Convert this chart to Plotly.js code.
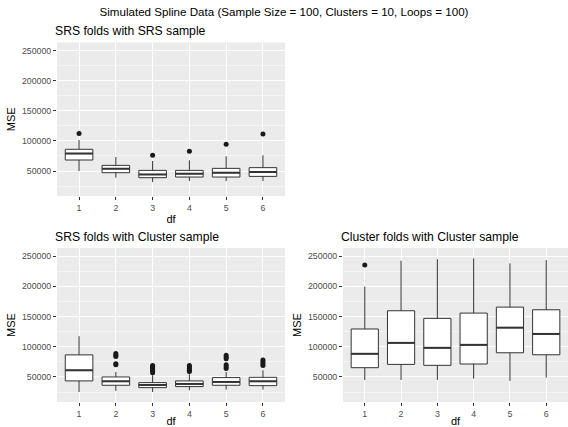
<!DOCTYPE html>
<html>
<head>
<meta charset="utf-8">
<script src="https://cdn.plot.ly/plotly-3.0.1.min.js"></script>
<style>html,body{margin:0;padding:0;background:#fff}#chart{width:568px;height:427px}</style>
</head>
<body>
<div id="chart"></div>
<script>
// ---- data ----
const dfLevels = [1, 2, 3, 4, 5, 6];
const mainTitle = "Simulated Spline Data (Sample Size = 100, Clusters = 10, Loops = 100)";
const panelTitles = ["SRS folds with SRS sample", "SRS folds with Cluster sample", "Cluster folds with Cluster sample"];

// Panel 1: SRS folds with SRS sample
const p1Lower  = [50000, 38900, 31700, 33300, 33300, 33300];
const p1Q1     = [68300, 47200, 38900, 40000, 40000, 41100];
const p1Median = [78900, 53900, 44400, 45600, 47200, 48300];
const p1Q3     = [86100, 59400, 51100, 51100, 54400, 55600];
const p1Upper  = [101700, 73300, 66700, 67800, 74400, 76100];
const p1OutX   = [1, 3, 4, 5, 6];
const p1OutY   = [112200, 76100, 82800, 94400, 111700];

// Panel 2: SRS folds with Cluster sample
const p2Lower  = [25100, 26800, 25100, 27900, 29000, 29000];
const p2Q1     = [43400, 36200, 32300, 34000, 36200, 35600];
const p2Median = [61000, 42800, 36700, 38400, 41700, 42800];
const p2Q3     = [86500, 50000, 40600, 43400, 48900, 49400];
const p2Upper  = [117400, 58300, 52700, 54400, 58300, 61000];
const p2OutX   = [2, 2, 2, 2, 2, 3, 3, 3, 3, 3, 3, 4, 4, 4, 4, 4, 5, 5, 5, 5, 5, 5, 6, 6, 6, 6];
const p2OutY   = [89000, 86000, 84000, 72000, 70000,
                  69000, 67000, 65000, 62000, 60000, 57000,
                  69000, 67000, 64000, 61000, 59000,
                  86000, 83000, 80000, 70000, 67000, 64000,
                  78000, 75000, 72000, 69000];

// Panel 3: Cluster folds with Cluster sample
const p3Lower  = [45000, 45000, 45000, 47200, 43400, 48900];
const p3Q1     = [65300, 70800, 69200, 71400, 90000, 86700];
const p3Median = [88300, 106400, 98200, 103100, 131600, 121200];
const p3Q3     = [129400, 159600, 147000, 155700, 165600, 161200];
const p3Upper  = [199600, 242300, 245000, 246200, 238000, 243400];
const p3OutX   = [1];
const p3OutY   = [235200];

const yTicks = [50000, 100000, 150000, 200000, 250000];

// ---- build ----
const W = 568, H = 427;
const panels = [
  {lo:p1Lower, q1:p1Q1, med:p1Median, q3:p1Q3, hi:p1Upper, ox:p1OutX, oy:p1OutY, px:[57,285], py:[42.5,196]},
  {lo:p2Lower, q1:p2Q1, med:p2Median, q3:p2Q3, hi:p2Upper, ox:p2OutX, oy:p2OutY, px:[57,285], py:[248,402]},
  {lo:p3Lower, q1:p3Q1, med:p3Median, q3:p3Q3, hi:p3Upper, ox:p3OutX, oy:p3OutY, px:[343,568], py:[248,402]}
];
const boxW = 0.75;
const traces = [];
const layout = {
  width: W, height: H,
  margin: {l:0, r:0, t:0, b:0},
  paper_bgcolor: '#ffffff',
  plot_bgcolor: '#EBEBEB',
  showlegend: false,
  font: {family: 'Liberation Sans, Arial, sans-serif', color: '#000'},
  annotations: [],
  title: {text: mainTitle, x: 0.5, xanchor: 'center', y: 1 - 12/H, yanchor: 'middle', font: {size: 11.6, color: '#000'}}
};

panels.forEach((p, i) => {
  const n = i === 0 ? '' : String(i + 1);
  const xa = 'x' + n, ya = 'y' + n;
  traces.push({
    type: 'box', xaxis: xa, yaxis: ya,
    x: dfLevels, q1: p.q1, median: p.med, q3: p.q3,
    lowerfence: p.lo, upperfence: p.hi,
    width: boxW, whiskerwidth: 0, boxpoints: false,
    fillcolor: '#ffffff', line: {color: '#333333', width: 1},
    hoverinfo: 'skip'
  });
  // thicker median segments (ggplot fatten)
  const mx = [], my = [];
  dfLevels.forEach((d, k) => {
    mx.push(d - boxW/2, d + boxW/2, null);
    my.push(p.med[k], p.med[k], null);
  });
  traces.push({type:'scatter', mode:'lines', xaxis: xa, yaxis: ya, x: mx, y: my,
    line: {color:'#333333', width: 2}, hoverinfo:'skip'});
  traces.push({type:'scatter', mode:'markers', xaxis: xa, yaxis: ya, x: p.ox, y: p.oy,
    marker: {color:'#1a1a1a', size: 5}, hoverinfo:'skip'});

  const axCommon = {
    showline: false, zeroline: false,
    ticks: 'outside', ticklen: 3, tickwidth: 1, tickcolor: '#333333',
    tickfont: {size: 8.8, color: '#4D4D4D'},
    gridcolor: '#ffffff', gridwidth: 1
  };
  layout['xaxis' + n] = Object.assign({}, axCommon, {
    domain: [p.px[0]/W, p.px[1]/W], anchor: ya,
    range: [0.4, 6.6], tickvals: dfLevels, ticktext: dfLevels.map(String),
    title: {text: 'df', font: {size: 11, color: '#000'}, standoff: 3}
  });
  layout['yaxis' + n] = Object.assign({}, axCommon, {
    domain: [1 - p.py[1]/H, 1 - p.py[0]/H], anchor: xa,
    range: [8500, 263500], tickvals: yTicks, ticktext: yTicks.map(String),
    minor: {tickvals: [25000, 75000, 125000, 175000, 225000], showgrid: true, gridcolor: '#ffffff', gridwidth: 0.5, ticks: ''},
    title: {text: 'MSE', font: {size: 11, color: '#000'}, standoff: 4}
  });
  layout.annotations.push({
    text: panelTitles[i], xref: 'paper', yref: 'paper',
    x: (p.px[0] - 4)/W, xanchor: 'left',
    y: 1 - (p.py[0] - 11)/H, yanchor: 'middle',
    showarrow: false, font: {size: 12.2, color: '#000'}
  });
});

Plotly.newPlot('chart', traces, layout, {staticPlot: true, displayModeBar: false});
</script>
</body>
</html>
